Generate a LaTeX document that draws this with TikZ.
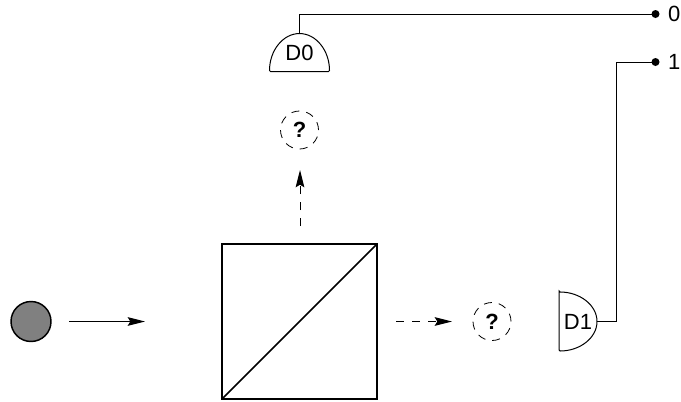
\documentclass[tikz,border=0pt]{standalone}
\usepackage{fontspec}
\setmainfont{Liberation Sans}
\usepackage{tikz}
\usetikzlibrary{arrows.meta, positioning}

\begin{document}
\begin{tikzpicture}[
    x=0.75pt, y=-0.75pt,
    node distance=30pt and 36pt,
    every node/.style={outer sep=0pt, inner sep=0pt},
    photon/.style={circle, draw, line width=1.1pt, fill=black!50, minimum size=30pt},
    splitter/.style={rectangle, draw, line width=1.1pt, minimum size=116.25pt},
    unknown/.style={circle, draw, dash pattern=on 6pt off 5.2pt, line width=0.6pt,
                    minimum size=28.5pt, font=\bfseries\fontsize{16.5}{16.5}\selectfont},
    detector/.style={font=\fontsize{16.5}{17}\selectfont},
    terminal/.style={circle, fill=black, minimum size=6pt},
    readout/.style={font=\fontsize{16.5}{17}\selectfont},
    wire/.style={line width=0.75pt},
    arrow/.style={-{Stealth[length=13pt, width=6.5pt, inset=2pt]}, line width=0.75pt},
    darrow/.style={arrow, dash pattern=on 6pt off 6pt},
]
\useasboundingbox (0,0) rectangle (681,401);

\node[splitter] (bs) at (299.5,321.5) {};
\node[photon, left=128.25pt of bs] (ball) {};
\node[unknown, above=71.25pt of bs] (up) {?};
\node[unknown, right=72pt of bs] (side) {?};
\node[detector, minimum width=45pt, minimum height=28.5pt, above=29.6pt of up] (d0) {D0};
\node[detector, minimum width=28.5pt, minimum height=44.25pt, right=of side] (d1) {D1};
\node[terminal] (t0) at (655.5,14) {};
\node[terminal] (t1) at (655.5,62) {};
\node[readout, right=6.5pt of t0] (r0) {0};
\node[readout, right=6.5pt of t1] (r1) {1};

% domes
\draw[wire, rounded corners=0.8pt] (d0.south west) -- (d0.south east)
    arc[start angle=0, end angle=180, x radius=22.5pt, y radius=28.5pt] -- cycle;
\draw[wire, rounded corners=0.8pt] (d1.north west) -- (d1.south west)
    arc[start angle=-90, end angle=90, x radius=28.5pt, y radius=22.125pt] -- cycle;

% diagonal
\draw[line width=1.1pt] (bs.south west) -- (bs.north east);

% beams
\coordinate (in0) at (69,321.5);
\coordinate (in1) at (145,321.5);
\coordinate (up0) at (300,226);
\coordinate (up1) at (300,170);
\coordinate (out0) at (396,321.5);
\coordinate (out1) at (452,321.5);
\draw[arrow] (in0) -- (in1);
\draw[darrow] (up0) -- (up1);
\draw[darrow] (out0) -- (out1);

% wires
\coordinate (bend) at (616.5,62);
\draw[wire] (d0.north) |- (t0);
\draw[wire] (d1.east) -| (bend) -- (t1);
\end{tikzpicture}
\end{document}
